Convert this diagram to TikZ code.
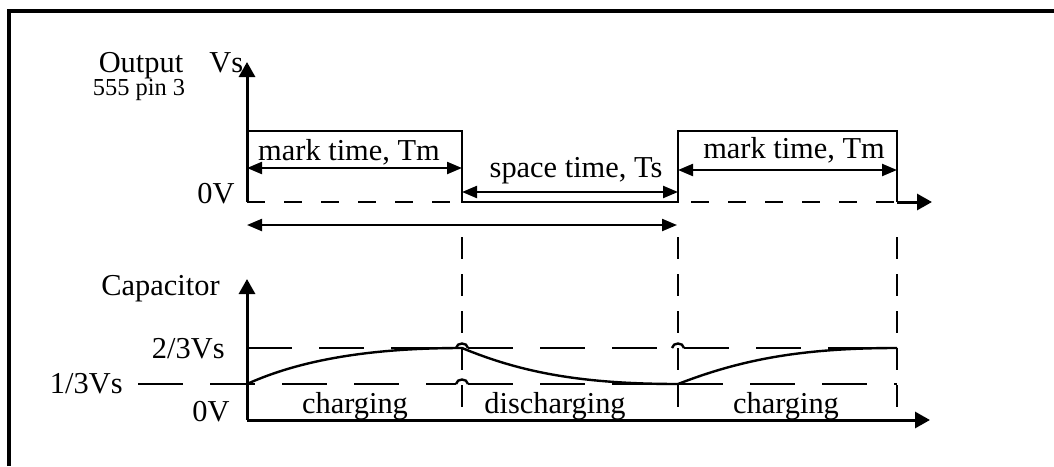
\documentclass[tikz,border=0pt]{standalone}
\usepackage{fontspec}
\setmainfont{Liberation Serif}
\usetikzlibrary{arrows.meta}
\begin{document}
\begin{tikzpicture}[x=0.5pt,y=-0.5pt,
  lbl/.style={font=\fontsize{15.2pt}{18pt}\selectfont, inner sep=0pt},
  smalllbl/.style={font=\fontsize{12.2pt}{14pt}\selectfont, inner sep=0pt},
  axis/.style={line width=1.5pt, -{Triangle[length=7.5pt,width=8pt]}},
  wave/.style={line width=1.4pt},
  span/.style={line width=1.1pt, {Triangle[length=7.5pt,width=6pt]}-{Triangle[length=7.5pt,width=6pt]}},
  zeroline/.style={line width=1.3pt, dash pattern=on 9pt off 9.5pt},
  level/.style={line width=1.3pt, dash pattern=on 22.5pt off 13.5pt},
  divider/.style={line width=1.3pt, dash pattern=on 11pt off 7.5pt},
  hop/.style={line width=1.2pt},
  curve/.style={line width=1.2pt}]
\useasboundingbox (0,0) rectangle (1054,466);

% frame
\draw[line width=1.6pt] (9,466) -- (9,11) -- (1054,11);

% ---- output waveform ----
\coordinate (o1) at (247,202);
\coordinate (v1) at (247,62);
\coordinate (e1) at (897,202);
\coordinate (x1) at (932,202);
\draw[axis] (o1) -- (v1);
\draw[zeroline] (o1) -- (e1);
\draw[axis] (e1) -- (x1);
\coordinate (h0) at (247,131);
\coordinate (f1) at (462,131);
\coordinate (f1b) at (462,202);
\coordinate (r1b) at (678,202);
\coordinate (r1) at (678,131);
\coordinate (f2) at (897,131);
\draw[wave] (h0) -- (f1) -- (f1b) -- (r1b) -- (r1) -- (f2) -- (e1);

\node[lbl, anchor=base] (out) at (141,72) {Output};
\node[lbl, anchor=base west] (vs) at (209,72) {Vs};
\node[smalllbl, anchor=base] (pin) at (139,95) {555 pin 3};
\node[lbl, anchor=base east] (zv1) at (235,203) {0V};

\node[lbl, anchor=base] (m1) at (349,160) {mark time, Tm};
\node[lbl, anchor=base] (sp) at (576,177) {space time, Ts};
\node[lbl, anchor=base] (m2) at (794,158) {mark time, Tm};

\coordinate (a1) at (247,168); \coordinate (a2) at (462,168);
\coordinate (b1) at (462,192); \coordinate (b2) at (678,192);
\coordinate (c1) at (678,170); \coordinate (c2) at (897,170);
\coordinate (p1) at (247,225); \coordinate (p2) at (677,225);
\draw[span] (a1) -- (a2);
\draw[span] (b1) -- (b2);
\draw[span] (c1) -- (c2);
\draw[span] (p1) -- (p2);

% ---- dividers ----
\draw[divider] (462,237) -- (462,408);
\draw[divider] (678,237) -- (678,408);
\draw[divider] (897,237) -- (897,408);

% ---- capacitor voltage ----
\coordinate (o2) at (247,420);
\coordinate (v2) at (247,279);
\coordinate (x2) at (930,420);
\draw[axis] (o2) -- (v2);
\draw[axis] (o2) -- (x2);

% 2/3 Vs threshold with small hops over the dividers
\draw[level] (247,348) -- (456,348);
\draw[hop] (456,348) .. controls (457,342) and (467,342) .. (468,348);
\draw[level] (468,348) -- (672,348);
\draw[hop] (672,348) .. controls (673,342) and (683,342) .. (684,348);
\draw[level] (684,348) -- (897,348);
% 1/3 Vs threshold
\draw[level] (138,384) -- (456,384);
\draw[hop] (456,384) .. controls (457,378) and (467,378) .. (468,384);
\draw[level] (468,384) -- (678,384);
\draw[level] (678,384) -- (897,384);

% charge / discharge curve
\draw[curve] (247,384) .. controls (300,360) and (370,348) .. (462,348)
             .. controls (520,372) and (580,384) .. (678,384)
             .. controls (740,360) and (800,348) .. (897,348);

\node[lbl, anchor=base east] (cap) at (220,295) {Capacitor};
\node[lbl, anchor=base east] (hi) at (225,358) {2/3Vs};
\node[lbl, anchor=base east] (lo) at (123,393) {1/3Vs};
\node[lbl, anchor=base east] (zv2) at (230,421) {0V};

\node[lbl, anchor=base] (ch1) at (355,413) {charging};
\node[lbl, anchor=base] (dis) at (555,413) {discharging};
\node[lbl, anchor=base] (ch2) at (786,413) {charging};
\end{tikzpicture}
\end{document}
